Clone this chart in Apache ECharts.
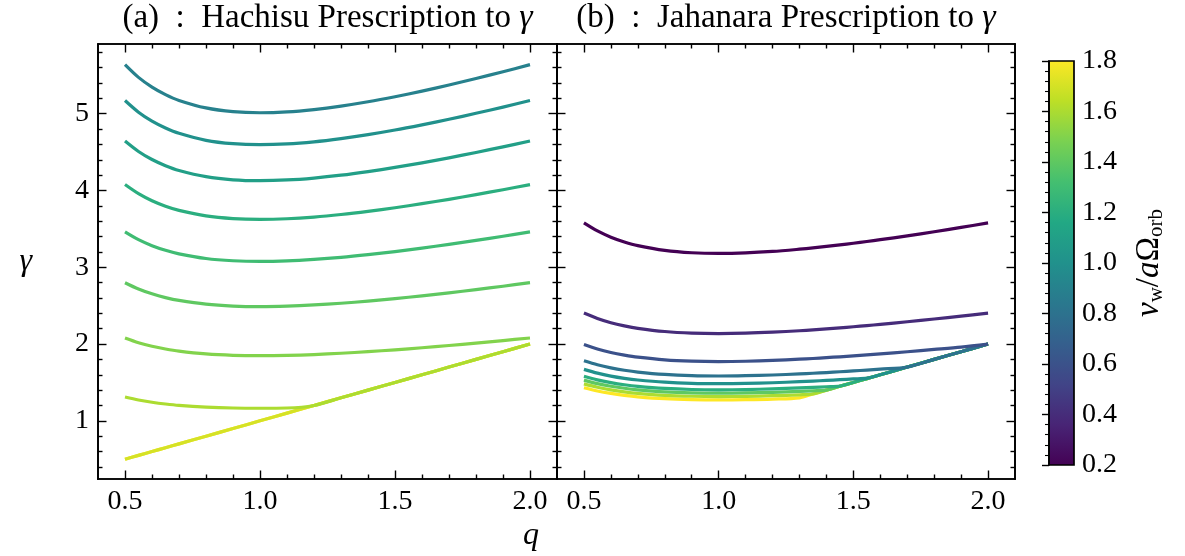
<!DOCTYPE html>
<html><head><meta charset="utf-8">
<script src="https://cdn.jsdelivr.net/npm/echarts@6/dist/echarts.min.js"></script>
<style>html,body{margin:0;padding:0;background:#fff}#c{width:1185px;height:556px}</style>
</head><body><div id="c"></div>
<script>
// ---------- data ----------
const QL = [0.5,0.55,0.6,0.65,0.7,0.8,0.9,1.0,1.1,1.2,1.3,1.4,1.5,1.6,1.7,1.8,1.9,2.0];
const H09 = [5.639,5.473,5.346,5.248,5.173,5.075,5.026,5.012,5.023,5.054,5.099,5.155,5.221,5.294,5.373,5.458,5.546,5.639];
const H10 = [5.171,5.019,4.902,4.813,4.744,4.653,4.609,4.596,4.606,4.634,4.676,4.727,4.787,4.855,4.927,5.005,5.086,5.171];
const H11 = [4.644,4.508,4.403,4.323,4.261,4.180,4.139,4.128,4.137,4.162,4.199,4.246,4.300,4.360,4.425,4.495,4.568,4.644];
const H12 = [4.077,3.958,3.866,3.795,3.741,3.669,3.634,3.624,3.632,3.654,3.687,3.728,3.775,3.828,3.885,3.946,4.010,4.077];
const H13 = [3.461,3.359,3.281,3.221,3.175,3.114,3.085,3.076,3.083,3.102,3.129,3.164,3.204,3.249,3.298,3.350,3.404,3.461];
const H14 = [2.799,2.717,2.654,2.605,2.568,2.519,2.495,2.488,2.494,2.509,2.531,2.559,2.592,2.628,2.667,2.709,2.753,2.799];
const H15 = [2.079,2.018,1.971,1.935,1.907,1.871,1.853,1.848,1.852,1.863,1.880,1.901,1.925,1.952,1.981,2.012,2.045,2.079];
const H16 = [1.310,1.271,1.242,1.219,1.201,1.179,1.167,1.164,1.167,1.200,1.300,1.400,1.500,1.600,1.700,1.800,1.900,2.000];
const H17 = [0.50,0.55,0.60,0.65,0.70,0.80,0.90,1.00,1.10,1.20,1.30,1.40,1.50,1.60,1.70,1.80,1.90,2.00];
const H18 = [0.50,0.55,0.60,0.65,0.70,0.80,0.90,1.00,1.10,1.20,1.30,1.40,1.50,1.60,1.70,1.80,1.90,2.00];

const QR = [0.5,0.55,0.6,0.65,0.7,0.8,0.9,1.0,1.1,1.2,1.3,1.35,1.4,1.45,1.5,1.55,1.6,1.7,1.8,1.9,2.0];
const J02 = [3.578,3.473,3.392,3.330,3.282,3.220,3.189,3.180,3.187,3.206,3.235,3.252,3.271,3.291,3.313,3.335,3.359,3.409,3.463,3.519,3.578];
const J04 = [2.403,2.333,2.278,2.237,2.205,2.163,2.142,2.136,2.141,2.154,2.173,2.184,2.197,2.211,2.225,2.240,2.256,2.290,2.326,2.364,2.403];
const J06 = [1.994,1.935,1.890,1.856,1.829,1.794,1.777,1.772,1.776,1.787,1.803,1.812,1.823,1.834,1.846,1.858,1.872,1.900,1.930,1.961,2.000];
const J08 = [1.782,1.730,1.690,1.659,1.635,1.604,1.588,1.584,1.588,1.597,1.611,1.620,1.629,1.639,1.650,1.661,1.673,1.700,1.800,1.900,2.000];
const J10 = [1.670,1.621,1.583,1.554,1.532,1.503,1.488,1.484,1.487,1.496,1.510,1.518,1.526,1.536,1.546,1.556,1.600,1.700,1.800,1.900,2.000];
const J12 = [1.580,1.533,1.498,1.470,1.449,1.422,1.408,1.404,1.407,1.416,1.428,1.436,1.444,1.453,1.500,1.550,1.600,1.700,1.800,1.900,2.000];
const J14 = [1.530,1.485,1.451,1.424,1.404,1.377,1.364,1.360,1.363,1.371,1.384,1.391,1.400,1.450,1.500,1.550,1.600,1.700,1.800,1.900,2.000];
const J16 = [1.481,1.437,1.404,1.378,1.358,1.332,1.320,1.316,1.319,1.327,1.339,1.350,1.400,1.450,1.500,1.550,1.600,1.700,1.800,1.900,2.000];
const J18 = [1.431,1.389,1.357,1.332,1.313,1.288,1.276,1.272,1.275,1.283,1.300,1.350,1.400,1.450,1.500,1.550,1.600,1.700,1.800,1.900,2.000];

// wind velocity of each curve (drawing order: fast first, slow on top)
const HACHISU_V = [1.8,1.7,1.6,1.5,1.4,1.3,1.2,1.1,1.0,0.9];
const HACHISU_D = [H18,H17,H16,H15,H14,H13,H12,H11,H10,H09];
const JAHANARA_V = [1.8,1.6,1.4,1.2,1.0,0.8,0.6,0.4,0.2];
const JAHANARA_D = [J18,J16,J14,J12,J10,J08,J06,J04,J02];

const X_LABELS = [0.5,1.0,1.5,2.0];
const X_MINOR = [0.6,0.7,0.8,0.9,1.1,1.2,1.3,1.4,1.6,1.7,1.8,1.9];
const Y_LABELS = [1,2,3,4,5];
const Y_MINOR = [0.4,0.6,0.8,1.2,1.4,1.6,1.8,2.2,2.4,2.6,2.8,3.2,3.4,3.6,3.8,4.2,4.4,4.6,4.8,5.2,5.4,5.6,5.8];
const CB_MIN = 0.2, CB_MAX = 1.8;
const X_MIN = 0.4, X_MAX = 2.1, Y_MIN = 0.2425, Y_MAX = 5.9075;

// ---------- styling ----------
const VIRIDIS = ['#440154','#482475','#414487','#355f8d','#2a788e','#21918c','#22a884','#44bf70','#7ad151','#bddf26','#fde725'];
function hex2rgb(h){return [parseInt(h.slice(1,3),16),parseInt(h.slice(3,5),16),parseInt(h.slice(5,7),16)];}
function viridis(t){
  t = Math.max(0, Math.min(1, t));
  const n = VIRIDIS.length - 1;
  const i = Math.min(n - 1, Math.floor(t * n));
  const f = t * n - i;
  const a = hex2rgb(VIRIDIS[i]), b = hex2rgb(VIRIDIS[i + 1]);
  const c = a.map((x, k) => Math.round(x + (b[k] - x) * f));
  return 'rgb(' + c.join(',') + ')';
}
const vColor = v => viridis((v - CB_MIN) / (CB_MAX - CB_MIN));

const FONT = 'Liberation Serif';
const AX_LINE = {color:'#000', width:1.7};
const TICK_LINE = {color:'#000', width:1.4};
const MAJ = 8.5, MIN = 4.5;

const grids = [
  {left:98, top:44, width:459, height:435, outerBoundsMode:'none', containLabel:false},
  {left:557, top:44, width:458, height:435, outerBoundsMode:'none', containLabel:false},
  {left:1049, top:61, width:25, height:404, outerBoundsMode:'none', containLabel:false}
];

const xAxes = [], yAxes = [];
function addX(grid, pos, ticks, len, extra){
  xAxes.push(Object.assign({
    type:'value', gridIndex:grid, position:pos, min:X_MIN, max:X_MAX, z:5,
    axisLine:{show:true, onZero:false, lineStyle:AX_LINE},
    axisTick:{show:true, inside:true, length:len, customValues:ticks, lineStyle:TICK_LINE},
    axisLabel:{show:false}, splitLine:{show:false}
  }, extra || {}));
  return xAxes.length - 1;
}
function addY(grid, pos, ticks, len, extra){
  yAxes.push(Object.assign({
    type:'value', gridIndex:grid, position:pos, min:Y_MIN, max:Y_MAX, z:5,
    axisLine:{show:true, onZero:false, lineStyle:AX_LINE},
    axisTick:{show:true, inside:true, length:len, customValues:ticks, lineStyle:TICK_LINE},
    axisLabel:{show:false}, splitLine:{show:false}
  }, extra || {}));
  return yAxes.length - 1;
}
const xLabel = {show:true, customValues:X_LABELS, formatter:v => Number(v).toFixed(1),
  fontFamily:FONT, fontSize:28, color:'#000', margin:9};
const titleStyle = {fontFamily:FONT, fontSize:33, color:'#000',
  rich:{g:{fontFamily:FONT, fontSize:34, fontStyle:'italic', color:'#000'}}};

const axIdx = [];
for (let g = 0; g < 2; g++) {
  const xb = addX(g, 'bottom', X_LABELS, MAJ, {axisLabel:xLabel});
  addX(g, 'bottom', X_MINOR, MIN);
  addX(g, 'top', X_LABELS, MAJ, {
    name: g === 0 ? '(a)  :  Hachisu Prescription to {g|γ}' : '(b)  :  Jahanara Prescription to {g|γ}',
    nameLocation:'middle', nameGap:9, nameTextStyle:titleStyle});
  addX(g, 'top', X_MINOR, MIN);
  const yl = addY(g, 'left', Y_LABELS, MAJ, g === 0 ? {
    axisLabel:{show:true, customValues:Y_LABELS, formatter:v => String(v),
      fontFamily:FONT, fontSize:28, color:'#000', margin:9},
    name:'γ', nameLocation:'middle', nameRotate:0, nameGap:66,
    nameTextStyle:{fontFamily:FONT, fontSize:32, fontStyle:'italic', color:'#000'}
  } : {});
  addY(g, 'left', Y_MINOR, MIN);
  addY(g, 'right', Y_LABELS, MAJ);
  addY(g, 'right', Y_MINOR, MIN);
  axIdx.push([xb, yl]);
}
// colorbar axes
const cbX = xAxes.push({type:'value', gridIndex:2, min:0, max:1, show:false}) - 1;
const cbY = yAxes.push({
  type:'value', gridIndex:2, position:'right', min:CB_MIN, max:CB_MAX, interval:0.2, z:10,
  axisLine:{show:true, lineStyle:AX_LINE},
  axisTick:{show:true, inside:true, length:7, lineStyle:TICK_LINE},
  minorTick:{show:true, splitNumber:5, length:4, lineStyle:{color:'#000', width:1.1}},
  splitLine:{show:false}, minorSplitLine:{show:false},
  axisLabel:{show:true, formatter:v => Number(v).toFixed(1), fontFamily:FONT, fontSize:28, color:'#000', margin:8},
  name:'{i|v}{s|w}{n|/}{i|a}{n|Ω}{s|orb}', nameLocation:'middle', nameRotate:90, nameGap:57,
  nameTextStyle:{fontFamily:FONT, fontSize:32, color:'#000', rich:{
    i:{fontFamily:FONT, fontSize:33, fontStyle:'italic', color:'#000', lineHeight:36, verticalAlign:'middle'},
    n:{fontFamily:FONT, fontSize:33, color:'#000', lineHeight:36, verticalAlign:'middle'},
    s:{fontFamily:FONT, fontSize:21, color:'#000', lineHeight:18, verticalAlign:'bottom'}
  }}
}) - 1;

const series = [];
function addLines(panel, qs, vs, ds){
  vs.forEach((v, k) => {
    series.push({
      type:'line', xAxisIndex:axIdx[panel][0], yAxisIndex:axIdx[panel][1],
      data: qs.map((q, i) => [q, ds[k][i]]),
      showSymbol:false, symbol:'none', smooth:0.3, silent:true, z:2,
      lineStyle:{color:vColor(v), width:3.2, cap:'butt', join:'round'}
    });
  });
}
addLines(0, QL, HACHISU_V, HACHISU_D);
addLines(1, QR, JAHANARA_V, JAHANARA_D);

const stops = VIRIDIS.map((c, i) => ({offset:i / (VIRIDIS.length - 1), color:c}));
series.push({
  type:'custom', xAxisIndex:cbX, yAxisIndex:cbY, silent:true, z:1,
  data:[[0, CB_MIN, 1, CB_MAX]],
  renderItem:(params, api) => {
    const a = api.coord([api.value(0), api.value(1)]);
    const b = api.coord([api.value(2), api.value(3)]);
    return {type:'rect', shape:{x:a[0], y:b[1], width:b[0] - a[0], height:a[1] - b[1]},
      style:{fill:new echarts.graphic.LinearGradient(0, 1, 0, 0, stops), stroke:'#000', lineWidth:1.7}};
  }
});

const chart = echarts.init(document.getElementById('c'), null, {renderer:'canvas'});
chart.setOption({
  animation:false,
  backgroundColor:'#fff',
  grid:grids,
  xAxis:xAxes,
  yAxis:yAxes,
  series:series,
  graphic:[{type:'text', x:531, y:536, style:{text:'q', font:'italic 32px "Liberation Serif"',
    align:'center', verticalAlign:'middle', textAlign:'center', textVerticalAlign:'middle', fill:'#000'}}]
});
</script>
</body></html>
